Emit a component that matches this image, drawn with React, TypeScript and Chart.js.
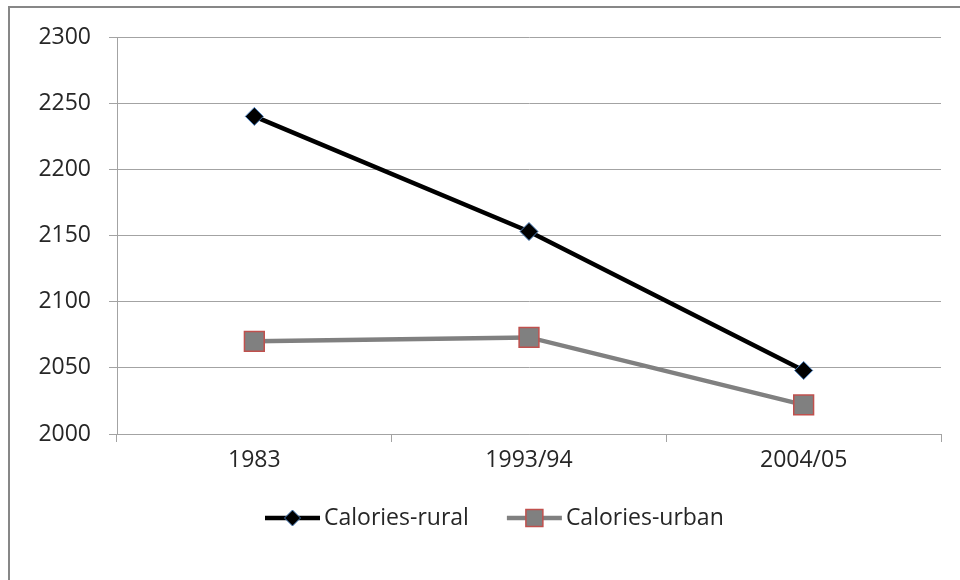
import React, { useEffect, useRef } from "react";
import { Chart, registerables } from "chart.js";

Chart.register(...registerables);

const categories = ["1983", "1993/94", "2004/05"];
const ruralValues = [2240, 2153, 2048];
const urbanValues = [2070, 2073, 2022];
const seriesLabels = ["Calories-rural", "Calories-urban"];
const yTickMin = 2000;
const yTickMax = 2300;
const yTickStep = 50;

const FONT = "'Open Sans', 'Noto Sans', sans-serif";
const FONT_SIZE = 23;
const TEXT_COLOR = "#262626";
const GRID_COLOR = "#a3a3a3";

function drawMarker(ctx: CanvasRenderingContext2D, style: string, x: number, y: number, r: number, fill: string, stroke: string, bw: number) {
  ctx.save();
  ctx.beginPath();
  if (style === "rectRot") {
    ctx.moveTo(x, y - r);
    ctx.lineTo(x + r, y);
    ctx.lineTo(x, y + r);
    ctx.lineTo(x - r, y);
    ctx.closePath();
  } else {
    const s = r * Math.SQRT1_2;
    ctx.rect(x - s, y - s, 2 * s, 2 * s);
  }
  ctx.fillStyle = fill;
  ctx.fill();
  ctx.lineWidth = bw;
  ctx.strokeStyle = stroke;
  ctx.stroke();
  ctx.restore();
}

const legendPlugin = {
  id: "lineMarkerLegend",
  afterDraw(chart: any) {
    const ctx: CanvasRenderingContext2D = chart.ctx;
    const y = 518;
    let x = 265;
    const lineLen = 55;
    ctx.save();
    ctx.font = `${FONT_SIZE}px ${FONT}`;
    ctx.textBaseline = "middle";
    ctx.textAlign = "left";
    chart.data.datasets.forEach((ds: any) => {
      ctx.save();
      ctx.strokeStyle = ds.borderColor;
      ctx.lineWidth = ds.borderWidth;
      ctx.beginPath();
      ctx.moveTo(x, y);
      ctx.lineTo(x + lineLen, y);
      ctx.stroke();
      ctx.restore();
      const legR = ds.pointStyle === "rectRot" ? ds.pointRadius - 1 : ds.pointRadius - 2;
      drawMarker(ctx, ds.pointStyle, x + lineLen / 2, y, legR, ds.pointBackgroundColor, ds.pointBorderColor, ds.pointBorderWidth);
      ctx.fillStyle = TEXT_COLOR;
      ctx.fillText(ds.label, x + lineLen + 4, y);
      const w = ctx.measureText(ds.label).width;
      x += lineLen + 4 + w + 38;
    });
    ctx.restore();
  },
};

export default function App() {
  const canvasRef = useRef<HTMLCanvasElement | null>(null);

  useEffect(() => {
    if (!canvasRef.current) return;
    const chart = new Chart(canvasRef.current, {
      type: "line",
      data: {
        labels: categories,
        datasets: [
          {
            label: seriesLabels[0],
            data: ruralValues,
            borderColor: "#000000",
            borderWidth: 4.5,
            tension: 0,
            pointStyle: "rectRot",
            pointRadius: 9,
            pointBackgroundColor: "#000000",
            pointBorderColor: "#4a7ebb",
            pointBorderWidth: 1,
          },
          {
            label: seriesLabels[1],
            data: urbanValues,
            borderColor: "#808080",
            borderWidth: 4.5,
            tension: 0,
            pointStyle: "rect",
            pointRadius: 14,
            pointBackgroundColor: "#808080",
            pointBorderColor: "#c0504d",
            pointBorderWidth: 1.5,
          },
        ] as any,
      },
      options: {
        animation: false,
        responsive: false,
        layout: { padding: { left: 0, top: 37, right: 19, bottom: 100 } },
        plugins: {
          legend: { display: false },
          tooltip: { enabled: false },
        },
        scales: {
          x: {
            offset: true,
            grid: {
              offset: true,
              drawOnChartArea: false,
              drawTicks: true,
              tickLength: 8,
              color: GRID_COLOR,
            },
            border: { color: GRID_COLOR },
            ticks: {
              color: TEXT_COLOR,
              font: { family: FONT, size: FONT_SIZE },
              padding: 5,
              maxRotation: 0,
            },
            afterFit: (scale: any) => {
              scale.height = 46;
            },
          },
          y: {
            min: yTickMin,
            max: yTickMax,
            ticks: {
              stepSize: yTickStep,
              color: TEXT_COLOR,
              font: { family: FONT, size: FONT_SIZE },
              padding: 18,
              callback: (v: any) => String(v),
            },
            grid: {
              color: GRID_COLOR,
              tickLength: 8,
            },
            border: { color: GRID_COLOR },
            afterFit: (scale: any) => {
              scale.width = 117;
            },
          },
        },
      },
      plugins: [legendPlugin],
    });
    return () => chart.destroy();
  }, []);

  return (
    <div style={{ position: "fixed", left: 0, top: 0, width: 960, height: 580, background: "#fff", overflow: "hidden" }}>
      <div
        style={{
          position: "absolute",
          left: 8,
          top: 6,
          width: 1100,
          height: 1100,
          borderLeft: "2px solid #878787",
          borderTop: "2px solid #878787",
        }}
      />
      <canvas ref={canvasRef} width={960} height={580} style={{ position: "absolute", left: 0, top: 0 }} />
    </div>
  );
}
